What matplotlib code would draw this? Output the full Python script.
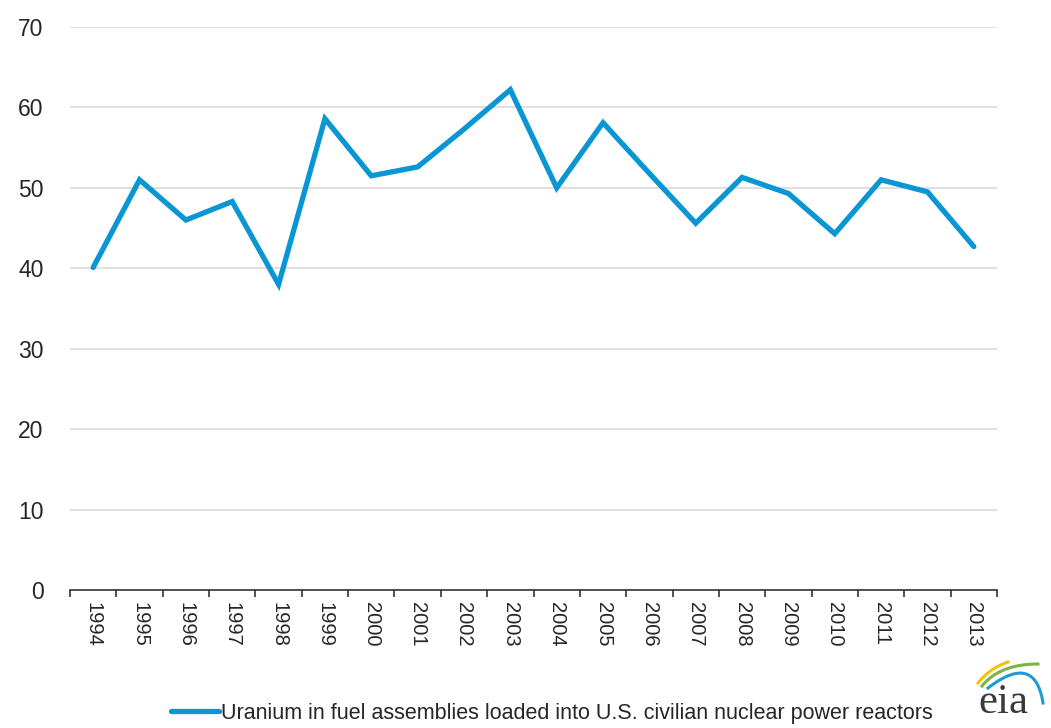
import numpy as np
import matplotlib
matplotlib.use("Agg")
import matplotlib.pyplot as plt

years = [str(y) for y in range(1994, 2014)]
uranium = [40.1, 51.0, 46.0, 48.3, 38.0, 58.6, 51.5, 52.6, 57.3, 62.2,
           50.0, 58.1, 51.8, 45.6, 51.3, 49.3, 44.3, 51.0, 49.5, 42.7]
label = "Uranium in fuel assemblies loaded into U.S. civilian nuclear power reactors"

plt.rcParams["font.family"] = ["Liberation Sans", "DejaVu Sans"]

fig = plt.figure(figsize=(10.51, 7.28), dpi=100)
ax = fig.add_axes([70 / 1051, 1 - 590 / 728, 927 / 1051, 563 / 728])

x = np.arange(len(years))
ax.plot(x, uranium, color="#0a96d4", lw=3.8, solid_joinstyle="miter",
        solid_capstyle="round", label=label)

ax.set_xlim(-0.5, len(years) - 0.5)
ax.set_ylim(0, 70)
ax.set_yticks(range(0, 71, 10))
ax.tick_params(axis="y", length=0, labelsize=16.5, colors="#262626", pad=19)
ax.yaxis.grid(True, color="#d9d9d9", lw=1.2)
ax.set_axisbelow(True)

ax.set_xticks(x)
ax.set_xticklabels(years, rotation=-90, fontsize=14.5, color="#262626")
ax.set_xticks(np.arange(-0.5, len(years), 1), minor=True)
ax.tick_params(axis="x", which="major", length=0, pad=9)
ax.tick_params(axis="x", which="minor", length=5, width=1.2, color="#333333")

for s in ["top", "right", "left"]:
    ax.spines[s].set_visible(False)
ax.spines["bottom"].set_color("#333333")
ax.spines["bottom"].set_linewidth(1.2)

fig.legend(loc="center left", bbox_to_anchor=(152 / 1051, 1 - 713 / 728), frameon=False,
           fontsize=15.5, handlelength=2.2, handletextpad=0.12, labelcolor="#262626")

# eia logo
fig.text(1003 / 1051, 1 - 703 / 728, "eia", family=["Liberation Serif", "DejaVu Serif"],
         fontsize=31, color="#3a3a3a", ha="center", va="center")
t = np.linspace(0, 1, 30)
for col, (x0, y0, cx, cy, x1, y1) in zip(
        ["#f4c20d", "#7cb342", "#1e9ad6"],
        [(978, 683, 990, 668, 1008, 662),
         (982, 686, 1000, 664, 1038, 664),
         (988, 688, 1035, 652, 1043, 703)]):
    bx = (1 - t) ** 2 * x0 + 2 * (1 - t) * t * cx + t ** 2 * x1
    by = (1 - t) ** 2 * y0 + 2 * (1 - t) * t * cy + t ** 2 * y1
    fig.add_artist(plt.Line2D(bx / 1051, 1 - by / 728, color=col, lw=2.2,
                              transform=fig.transFigure))

fig.savefig("out.png", dpi=100)
